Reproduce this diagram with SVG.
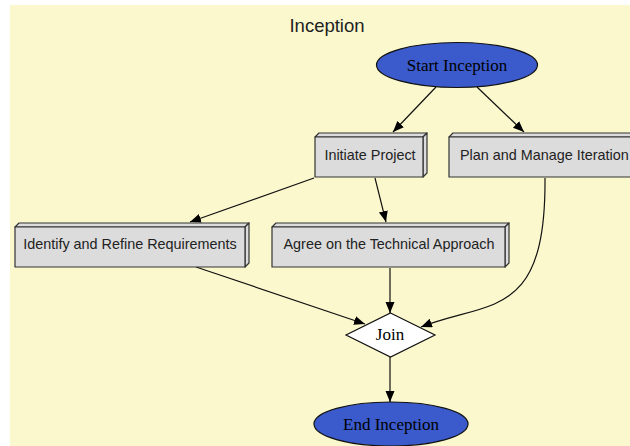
<svg xmlns="http://www.w3.org/2000/svg" width="630" height="446" viewBox="0 0 630 446">
  <style>
    .sans { font-family: "Liberation Sans", Arial, sans-serif; fill: #222; }
    .serif { font-family: "Liberation Serif", "Times New Roman", serif; fill: #000; font-size: 17px; }
    .box { fill: #dcdcdc; stroke: #333; stroke-width: 1.2; stroke-linejoin: round; }
    .term { fill: #3b5bcc; stroke: #111; stroke-width: 1.2; }
    .edge { fill: none; stroke: #111; stroke-width: 1.2; }
  </style>
  <defs>
    <marker id="arrow" markerUnits="userSpaceOnUse" markerWidth="12" markerHeight="10" refX="11" refY="4.5" orient="auto">
      <path d="M0,0 L11,4.5 L0,9 z" fill="#000"/>
    </marker>
  </defs>

  <!-- cluster background -->
  <rect x="0" y="0" width="630" height="446" fill="#ffffff"/>
  <rect x="10" y="5" width="620" height="441" fill="#fbf8cd"/>
  <text x="327" y="32" class="sans" font-size="18.5" text-anchor="middle" fill="#000">Inception</text>

  <!-- connectors -->
  <g id="edges">
    <path class="edge" d="M436,87 L393,132" marker-end="url(#arrow)"/>
    <path class="edge" d="M477,87 L524,132" marker-end="url(#arrow)"/>
    <path class="edge" d="M314,178 L190,222" marker-end="url(#arrow)"/>
    <path class="edge" d="M375,178 L386,222" marker-end="url(#arrow)"/>
    <path class="edge" d="M545,178 C546,320 490,300 421,327" marker-end="url(#arrow)"/>
    <path class="edge" d="M196,267 L365,324" marker-end="url(#arrow)"/>
    <path class="edge" d="M390,268 L390,313" marker-end="url(#arrow)"/>
    <path class="edge" d="M390,357 L390,402" marker-end="url(#arrow)"/>
  </g>

  <g id="start">
    <ellipse class="term" cx="457" cy="65" rx="80.5" ry="22.5"/>
    <text x="457" y="71" class="serif" text-anchor="middle">Start Inception</text>
  </g>

  <g id="initiate">
    <path class="box" d="M315,137 L319,133 L427,133 L423,137 Z"/>
    <path class="box" d="M423,137 L427,133 L427,173 L423,177 Z"/>
    <rect class="box" x="315" y="137" width="108" height="40"/>
    <text x="370" y="160" class="sans" font-size="14.4" text-anchor="middle">Initiate Project</text>
  </g>

  <g id="plan">
    <path class="box" d="M449,137 L453,133 L650,133 L646,137 Z"/>
    <rect class="box" x="449" y="137" width="197" height="40"/>
    <text x="460" y="160" class="sans" font-size="14.4">Plan and Manage Iteration</text>
  </g>

  <g id="identify">
    <path class="box" d="M15,227 L19,223 L249,223 L245,227 Z"/>
    <path class="box" d="M245,227 L249,223 L249,263 L245,267 Z"/>
    <rect class="box" x="15" y="227" width="230" height="40"/>
    <text x="130" y="249" class="sans" font-size="14.4" text-anchor="middle">Identify and Refine Requirements</text>
  </g>

  <g id="agree">
    <path class="box" d="M272,227 L276,223 L509,223 L505,227 Z"/>
    <path class="box" d="M505,227 L509,223 L509,263 L505,267 Z"/>
    <rect class="box" x="272" y="227" width="233" height="40"/>
    <text x="389" y="249" class="sans" font-size="14.4" text-anchor="middle">Agree on the Technical Approach</text>
  </g>

  <g id="join">
    <polygon points="390.5,313 435,335 390.5,357 346,335" fill="#ffffff" stroke="#111" stroke-width="1.2"/>
    <text x="390" y="339.5" class="serif" text-anchor="middle">Join</text>
  </g>

  <g id="end">
    <ellipse class="term" cx="391" cy="424" rx="77" ry="22"/>
    <text x="391" y="429.5" class="serif" text-anchor="middle">End Inception</text>
  </g>
</svg>
